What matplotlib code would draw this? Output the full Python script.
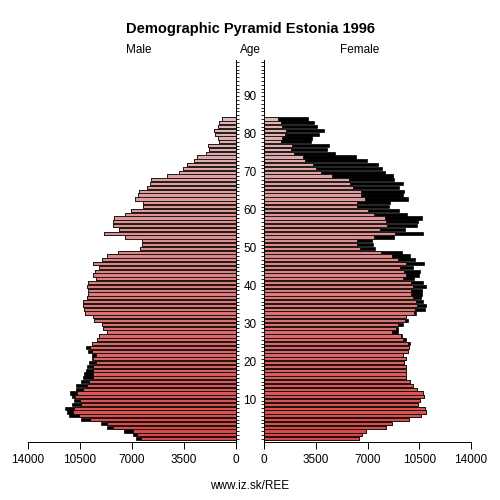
import matplotlib
matplotlib.use('Agg')
import matplotlib.pyplot as plt
import numpy as np

plt.rcParams['font.family'] = ['Liberation Sans', 'DejaVu Sans']

ages = list(range(0, 85))

male = [6730, 6910, 7515, 8700, 9085, 10430, 11240, 11395, 11510, 11060,
        10900, 11060, 11150, 10780, 10750, 10450, 10320, 10230, 10095, 10005,
        9870, 9715, 9665, 9980, 10095, 9715, 9375, 9250, 8660, 8925,
        9040, 9535, 9600, 10160, 10230, 10320, 10275, 10050, 9940, 9940,
        10050, 9940, 9420, 9600, 9490, 9200, 9600, 9040, 8660, 7920,
        6460, 6300, 6300, 7470, 8860, 7850, 8300, 8255, 8190, 7470,
        7065, 6280, 6280, 6800, 6575, 6530, 6010, 5790, 5745, 4620,
        3835, 3545, 3320, 2800, 2645, 2020, 1795, 1860, 1120, 1235,
        1415, 1460, 1235, 1145, 965]

female = [6415, 6640, 6910, 8255, 8660, 9800, 10590, 10950, 10880, 10430,
          10530, 10835, 10720, 10320, 10050, 9870, 9600, 9600, 9600, 9600,
          9445, 9600, 9420, 9715, 9825, 9870, 9600, 9330, 9040, 9040,
          9375, 9735, 9600, 10275, 10880, 10950, 10770, 10610, 10655, 10655,
          10990, 10770, 10160, 10455, 10565, 10095, 10835, 10210, 9870, 9330,
          7540, 7400, 7300, 8815, 10770, 9555, 10320, 10385, 10680, 9645,
          9155, 8480, 8525, 9715, 9420, 9490, 9110, 9420, 8770, 8705,
          8210, 7965, 7695, 6955, 6235, 4800, 4265, 4375, 3165, 3255,
          3700, 4040, 3610, 3390, 2985]

x_ticks = [0, 3500, 7000, 10500, 14000]
age_labels = [10, 20, 30, 40, 50, 60, 70, 80, 90]

ages = np.array(ages)
male = np.array(male)
female = np.array(female)
common = np.minimum(male, female)

# colour fades from red (young) to pale pink (old)
young = np.array([214, 72, 72]) / 255
old = np.array([224, 182, 182]) / 255
t = ages / 84.0
colors = [tuple(young + (old - young) * v) for v in t]

fig = plt.figure(figsize=(5, 5), dpi=100)
ax_l = fig.add_axes([0.056, 0.1166, 0.416, 0.7634])
ax_r = fig.add_axes([0.528, 0.1166, 0.414, 0.7634])

h = 0.85
lw = 0.5
for ax, vals in ((ax_l, male), (ax_r, female)):
    ax.barh(ages, vals, height=h, color='black', edgecolor='black', linewidth=lw)
    ax.barh(ages, common, height=h, color=colors, edgecolor='black', linewidth=lw)
    ax.set_ylim(-0.8, 99.5)
    ax.set_xticks(x_ticks)
    ax.set_xticklabels([str(v) for v in x_ticks], fontsize=8.5)
    ax.set_yticks(np.arange(0, 100))
    ax.set_yticklabels([])
    ax.tick_params(axis='x', direction='out', length=5, width=0.7, pad=4)
    ax.tick_params(axis='y', direction='out', length=2, width=0.6)
    ax.spines['top'].set_visible(False)
    ax.spines['bottom'].set_linewidth(0.7)

ax_l.set_xlim(14000, 0)
ax_l.spines['left'].set_visible(False)
ax_l.spines['right'].set_linewidth(0.7)
ax_l.yaxis.tick_right()

ax_r.set_xlim(0, 14000)
ax_r.spines['right'].set_visible(False)
ax_r.spines['left'].set_linewidth(0.7)
ax_r.yaxis.tick_left()

for a in age_labels:
    y = 1 - (439.5 - 3.81 * a) / 500
    fig.text(0.5, y, str(a), ha='center', va='center', fontsize=8.5)

fig.text(0.5, 1 - 29 / 500, 'Demographic Pyramid Estonia 1996', ha='center', va='center',
         fontsize=10.5, fontweight='bold')
fig.text(139 / 500, 1 - 50 / 500, 'Male', ha='center', va='center', fontsize=8.5)
fig.text(0.5, 1 - 50 / 500, 'Age', ha='center', va='center', fontsize=8.5)
fig.text(360 / 500, 1 - 50 / 500, 'Female', ha='center', va='center', fontsize=8.5)
fig.text(0.5, 1 - 486 / 500, 'www.iz.sk/REE', ha='center', va='center', fontsize=8.5)

fig.savefig('out.png', dpi=100)
